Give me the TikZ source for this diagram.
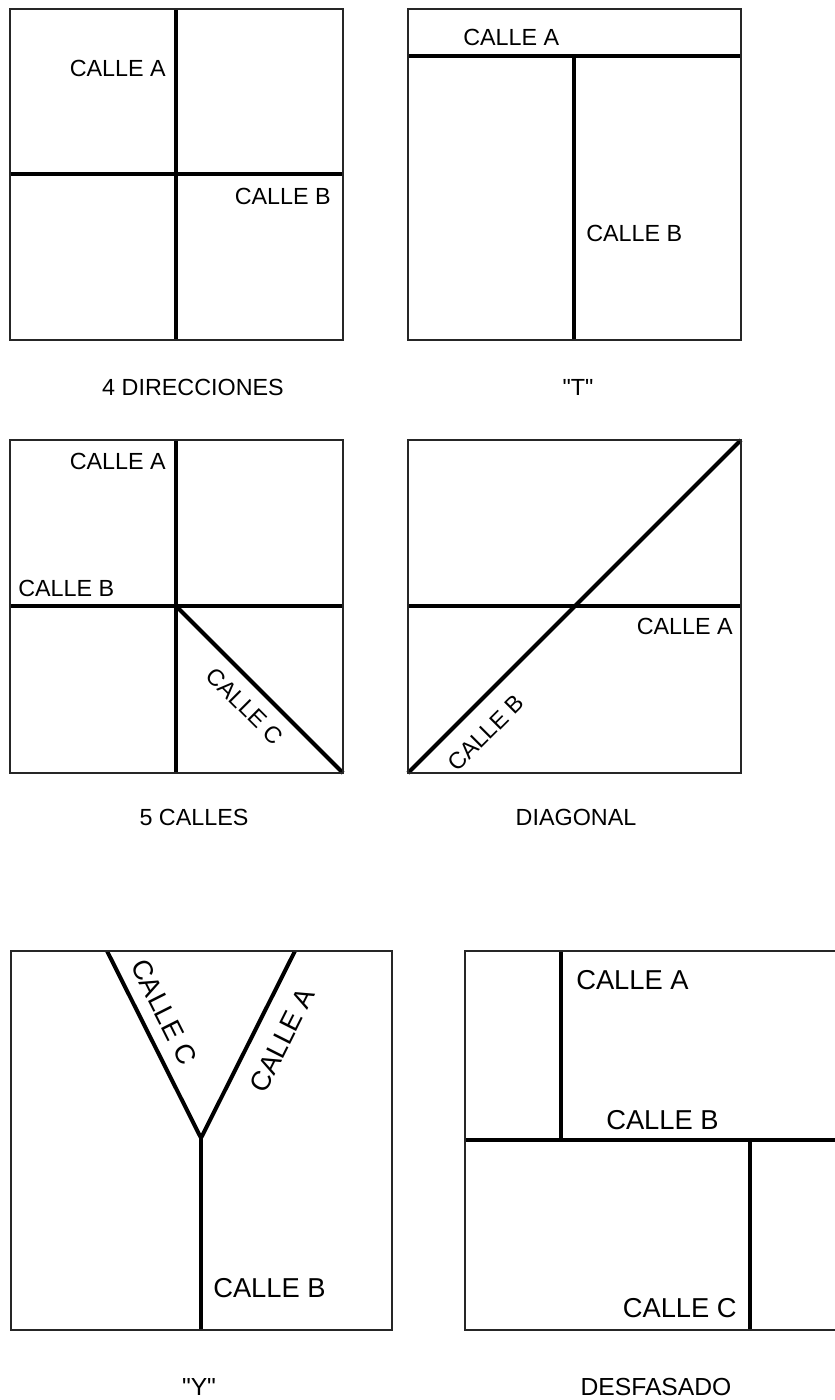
\documentclass[tikz,border=0pt]{standalone}
\usepackage{fontspec}
\setmainfont{Liberation Sans}
\begin{document}
\begin{tikzpicture}[x=0.75pt,y=-0.75pt,
  border/.style={draw=black!85,line width=1.6pt},
  street/.style={draw=black,line width=3pt},
  lbl/.style={inner sep=0pt,font=\fontsize{17.5}{17.5}\selectfont},
  lblbig/.style={inner sep=0pt,font=\fontsize{20.5}{20.5}\selectfont},
  captxt/.style={inner sep=0pt,font=\fontsize{17.5}{17.5}\selectfont},
  captxtbig/.style={inner sep=0pt,font=\fontsize{18.5}{18.5}\selectfont}]
\useasboundingbox (0,0) rectangle (835,1400);
\fill[white] (0,0) rectangle (835,1400);
\begin{scope}
\clip (0,0) rectangle (835,1400);
% ---- panel 1: 4 direcciones
\draw[street] (176,9) -- (176,340);
\draw[street] (10,174) -- (343,174);
\draw[border] (10,9) rectangle (343,340);
\node[lbl,anchor=base east] (p1a) at (166,76) {CALLE A};
\node[lbl,anchor=base east] (p1b) at (331,204) {CALLE B};
\node[captxt,anchor=base] (c1) at (193,395) {4 DIRECCIONES};
% ---- panel 2: T
\draw[street] (408,56) -- (741,56);
\draw[street] (574,56) -- (574,340);
\draw[border] (408,9) rectangle (741,340);
\node[lbl,anchor=base west] (p2a) at (463,45) {CALLE A};
\node[lbl,anchor=base west] (p2b) at (586,241) {CALLE B};
\node[captxt,anchor=base] (c2) at (578,395) {\textquotedbl T\textquotedbl};
% ---- panel 3: 5 calles
\draw[street] (176,440) -- (176,773);
\draw[street] (10,606) -- (343,606);
\draw[street] (176,606) -- (343,773);
\draw[border] (10,440) rectangle (343,773);
\node[lbl,anchor=base east] (p3a) at (166,469) {CALLE A};
\node[lbl,anchor=base west] (p3b) at (18,596) {CALLE B};
\node[lbl,rotate=-45] (p3c) at (245,706) {CALLE C};
\node[captxt,anchor=base] (c3) at (194,825) {5 CALLES};
% ---- panel 4: diagonal
\draw[street] (408,606) -- (741,606);
\draw[street] (408,773) -- (741,440);
\draw[border] (408,440) rectangle (741,773);
\node[lbl,anchor=base east] (p4a) at (733,634) {CALLE A};
\node[lbl,rotate=45] (p4b) at (486,733) {CALLE B};
\node[captxt,anchor=base] (c4) at (576,825) {DIAGONAL};
% ---- panel 5: Y
\draw[street,line join=miter] (107,951) -- (201,1138) -- (295,951);
\draw[street] (201,1138) -- (201,1330);
\draw[border] (11,951) rectangle (392,1330);
\node[lblbig,rotate=-63.3] (p5c) at (164,1012) {CALLE C};
\node[lblbig,rotate=63.3] (p5a) at (282,1040) {CALLE A};
\node[lblbig,anchor=base west] (p5b) at (213,1297) {CALLE B};
\node[captxtbig,anchor=base] (c5) at (199,1395) {\textquotedbl Y\textquotedbl};
% ---- panel 6: desfasado
\draw[street] (561,951) -- (561,1140);
\draw[street] (465,1140) -- (850,1140);
\draw[street] (750,1140) -- (750,1330);
\draw[border] (850,951) -- (465,951) -- (465,1330) -- (850,1330);
\node[lblbig,anchor=base west] (p6a) at (576,989) {CALLE A};
\node[lblbig,anchor=base west] (p6b) at (606,1129) {CALLE B};
\node[lblbig,anchor=base east] (p6c) at (737,1317) {CALLE C};
\node[captxtbig,anchor=base] (c6) at (656,1395) {DESFASADO};
\end{scope}
\end{tikzpicture}
\end{document}
